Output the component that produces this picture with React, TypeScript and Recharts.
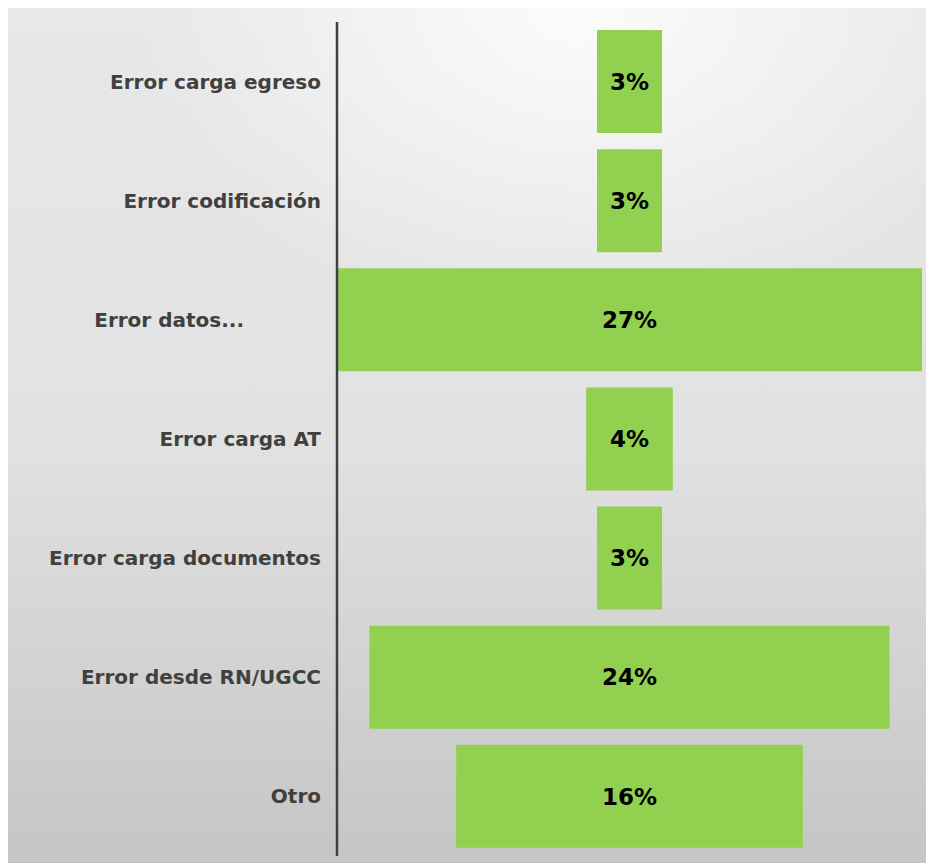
import React from "react";
import { BarChart, Bar, XAxis, YAxis, LabelList } from "recharts";

const categories = [
  "Error carga egreso",
  "Error codificación",
  "Error datos...",
  "Error carga AT",
  "Error carga documentos",
  "Error desde RN/UGCC",
  "Otro",
];
const shares = [3, 3, 27, 4, 3, 24, 16];

const maxShare = Math.max(...shares);
// invisible "pad" bar centres each share bar, giving the funnel shape
const data = categories.map((name, i) => ({
  name,
  pad: (maxShare - shares[i]) / 2,
  share: shares[i],
}));

const font = "'DejaVu Sans', Verdana, sans-serif";

const CategoryTick = (props: any) => {
  const { x, y, payload } = props;
  const label: string = payload.value;
  // the truncated label sits further left in the original
  const shift = label.endsWith("...") ? -77 : 0;
  return (
    <text
      x={x - 8 + shift}
      y={y}
      dy={7}
      textAnchor="end"
      fill="#404040"
      fontFamily={font}
      fontWeight="bold"
      fontSize={20}
    >
      {label}
    </text>
  );
};

export default function App() {
  return (
    <>
      <style>{"html { overflow: hidden; }"}</style>
      <div
        style={{
          position: "absolute",
          left: 8,
          top: 8,
          width: 918,
          height: 855,
          background:
            "radial-gradient(ellipse 48% 38% at 62% 0%, rgba(255,255,255,0.85), rgba(255,255,255,0)), linear-gradient(180deg, #e8e8e8 0%, #e2e2e2 50%, #c5c5c5 100%)",
        }}
      >
        <BarChart
          width={918}
          height={855}
          data={data}
          layout="vertical"
          margin={{ top: 14, right: 4, bottom: 7, left: 0 }}
          barCategoryGap="6.7%"
        >
          <XAxis type="number" hide domain={[0, maxShare]} />
          <YAxis
            type="category"
            dataKey="name"
            width={329}
            tickLine={false}
            axisLine={{ stroke: "#404040", strokeWidth: 2.5 }}
            tick={<CategoryTick />}
            interval={0}
          />
          <Bar dataKey="pad" stackId="f" fill="transparent" isAnimationActive={false} />
          <Bar dataKey="share" stackId="f" fill="#92d050" isAnimationActive={false}>
            <LabelList
              dataKey="share"
              position="center"
              formatter={(v: any) => `${v}%`}
              fill="#000000"
              fontFamily={font}
              fontWeight="bold"
              fontSize={23}
            />
          </Bar>
        </BarChart>
      </div>
    </>
  );
}
